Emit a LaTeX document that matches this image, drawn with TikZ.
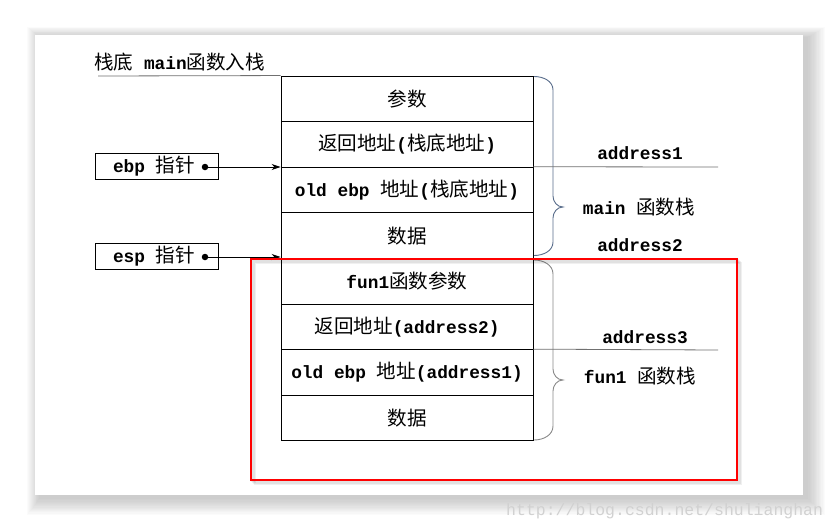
\documentclass[tikz,border=0pt]{standalone}
\usepackage{fontspec}
\setmainfont{Liberation Mono}
\setmonofont{Liberation Mono}
\newfontfamily\cjkfont[Scale=1.1]{Noto Sans CJK SC}
\newfontfamily\monofont{Liberation Mono}
\newcommand\zh[1]{{\cjkfont\mdseries #1}}
\usetikzlibrary{arrows.meta}
\definecolor{bracemain}{HTML}{5A6E8C}
\definecolor{bracefun}{HTML}{8A8A8A}
\definecolor{addrline}{HTML}{707070}
\tikzset{
  lbl/.style={font=\monofont\bfseries\fontsize{17.8}{20}\selectfont, inner sep=0pt},
  cell/.style={draw=black, line width=0.9pt, minimum width=252pt, minimum height=45.6pt,
    inner sep=0pt, font=\monofont\bfseries\fontsize{17.8}{20}\selectfont},
  ptrbox/.style={draw=black, line width=0.9pt, minimum width=123pt, minimum height=26pt, inner sep=0pt},
  ptrarrow/.style={line width=0.9pt, -{Stealth[length=9pt,width=6pt]}},
  dotmark/.style={circle, fill=black, minimum size=6.5pt, inner sep=0pt},
}
\begin{document}
\begin{tikzpicture}[x=1pt,y=-1pt]
\useasboundingbox (0,0) rectangle (838,530);
% page shadow
\foreach \i in {1,...,14}{
  \fill[black, opacity=0.016] (35+5-\i*0.9, 35+3-\i*0.8) rectangle (803+4+\i*1.3, 495+3+\i*1.2);
}
\fill[white] (35,35) rectangle (803,495);

% title
\node[lbl, anchor=west] (title) at (94,62) {\zh{栈底} main\zh{函数入栈}};
\coordinate (tl) at (98,76);

% stack cells
\node[cell] (r1) at (407,98.8) {\zh{参数}};
\node[cell] (r2) at (407,144.4) {\zh{返回地址}(\zh{栈底地址})};
\node[cell] (r3) at (407,190.0) {old ebp \zh{地址}(\zh{栈底地址})};
\node[cell] (r4) at (407,235.6) {\zh{数据}};
\node[cell] (r5) at (407,281.2) {fun1\zh{函数参数}};
\node[cell] (r6) at (407,326.8) {\zh{返回地址}(address2)};
\node[cell] (r7) at (407,372.4) {old ebp \zh{地址}(address1)};
\node[cell] (r8) at (407,418.0) {\zh{数据}};

\draw[addrline, line width=0.8pt] (tl) -- (r1.north west);

% pointer boxes
\node[ptrbox] (ebpbox) at (156.5,166) {};
\node[lbl] (ebptext) at (154,166) {ebp \zh{指针}};
\node[dotmark] (ebpdot) at (205,167) {};
\draw[ptrarrow] (ebpdot.center) -- (ebpdot.center -| r3.west);

\node[ptrbox] (espbox) at (156.5,256.5) {};
\node[lbl] (esptext) at (154,256.5) {esp \zh{指针}};
\node[dotmark] (espdot) at (205,257) {};
\draw[ptrarrow] (espdot.center) -- (espdot.center -| r5.west);

% braces
\draw[bracemain, line width=0.9pt]
  (534,76.5) to[out=0,in=90] (553,90) -- (553,196) to[out=-90,in=180] (563,207)
  to[out=180,in=90] (553,218) -- (553,242) to[out=-90,in=0] (534,255.5);
\draw[bracefun, line width=0.9pt]
  (534,260) to[out=0,in=90] (553,274) -- (553,369) to[out=-90,in=180] (563,380)
  to[out=180,in=90] (553,391) -- (553,426) to[out=-90,in=0] (534,440);

% address lines and labels
\coordinate (a1end) at (718,167);
\coordinate (a3end) at (718,350);
\draw[addrline, line width=0.8pt] (r3.north east) -- (a1end);
\draw[addrline, line width=0.8pt] (r7.north east) -- (a3end);
\node[lbl] (addr1) at (640,153) {address1};
\node[lbl] (mainstk) at (639,207) {main \zh{函数栈}};
\node[lbl] (addr2) at (640,245) {address2};
\node[lbl] (addr3) at (645,337) {address3};
\node[lbl] (funstk) at (640,376) {fun1 \zh{函数栈}};

% red frame with shadow
\foreach \i in {1,...,4}{
  \draw[black, opacity=0.06, line width=2pt] (251+\i,259+\i) rectangle (737+\i,480+\i);
}
\draw[red, line width=2pt] (251,259) rectangle (737,480);

% watermark
\node[font=\monofont\fontsize{16.5}{18}\selectfont, text=black!18, anchor=west, inner sep=0pt]
  (wm) at (506,511) {http://blog.csdn.net/shulianghan};
\end{tikzpicture}
\end{document}
